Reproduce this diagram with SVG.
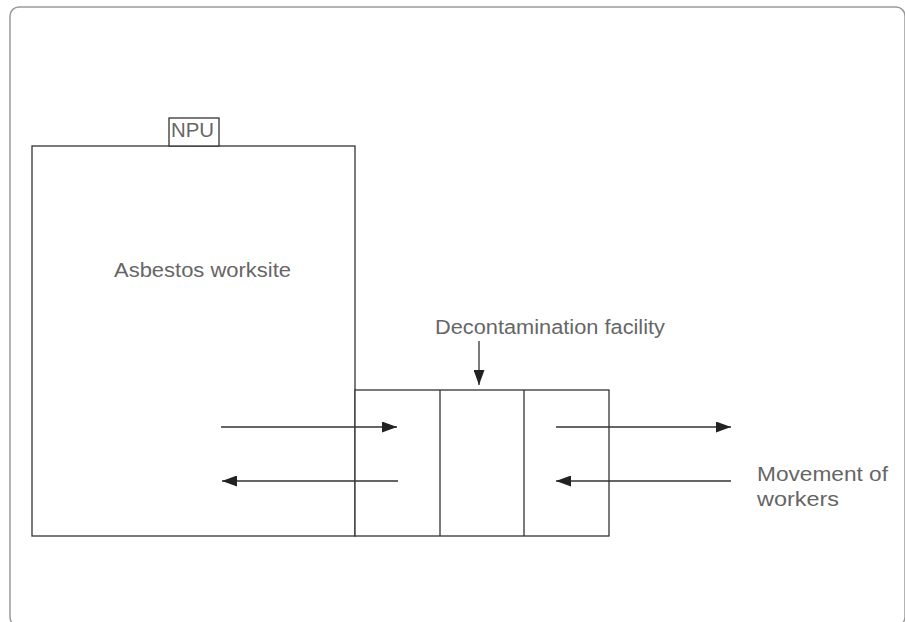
<svg xmlns="http://www.w3.org/2000/svg" width="905" height="622" viewBox="0 0 905 622">
<defs>
<style>
.box{fill:#fff;stroke:#333;stroke-width:1.3}
.lbl{font-family:"Liberation Sans",Arial,sans-serif;font-size:20px;fill:#666}
.conn{stroke:#333;stroke-width:1.3;fill:none}
</style>
<marker id="ah" markerUnits="userSpaceOnUse" markerWidth="15" markerHeight="11" refX="15" refY="5.5" orient="auto">
<path d="M0,0 L15,5.5 L0,11 z" fill="#222"/>
</marker>
</defs>
<rect x="0" y="0" width="905" height="622" fill="#fff"/>
<rect id="frame" x="10" y="7" width="895" height="619" rx="9" fill="none" stroke="#9a9a9a" stroke-width="1.5"/>
<g id="worksite">
<rect class="box" x="32" y="146" width="323" height="390"/>
<text class="lbl" x="114" y="277" textLength="177" lengthAdjust="spacingAndGlyphs">Asbestos worksite</text>
</g>
<g id="npu">
<rect class="box" x="169" y="118" width="50" height="28"/>
<text class="lbl" x="171" y="137" textLength="43" lengthAdjust="spacingAndGlyphs">NPU</text>
</g>
<g id="decon">
<rect class="box" x="355" y="390" width="254" height="146"/>
<line class="conn" x1="440" y1="390" x2="440" y2="536"/>
<line class="conn" x1="524" y1="390" x2="524" y2="536"/>
</g>
<g id="decon-label">
<text class="lbl" x="435" y="334" textLength="230" lengthAdjust="spacingAndGlyphs">Decontamination facility</text>
</g>
<g id="movement-label">
<text class="lbl" x="757" y="481" textLength="131" lengthAdjust="spacingAndGlyphs">Movement of</text>
<text class="lbl" x="757" y="506" textLength="82" lengthAdjust="spacingAndGlyphs">workers</text>
</g>
<g id="connectors">
<line class="conn" x1="479" y1="341" x2="479" y2="385" marker-end="url(#ah)"/>
<line class="conn" x1="221" y1="427" x2="397" y2="427" marker-end="url(#ah)"/>
<line class="conn" x1="398" y1="481" x2="222" y2="481" marker-end="url(#ah)"/>
<line class="conn" x1="556" y1="427" x2="731" y2="427" marker-end="url(#ah)"/>
<line class="conn" x1="731" y1="481" x2="556" y2="481" marker-end="url(#ah)"/>
</g>
</svg>
